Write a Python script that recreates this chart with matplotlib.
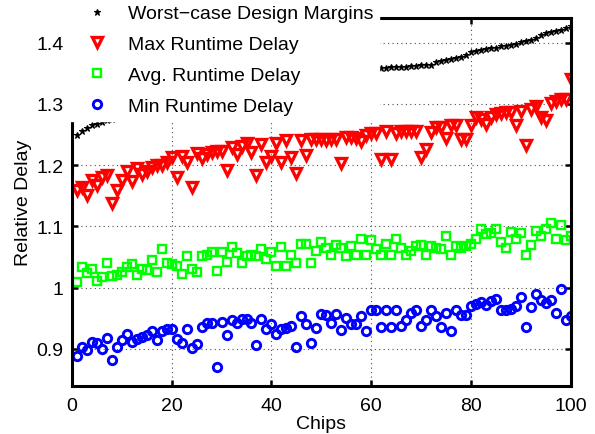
import numpy as np
import matplotlib
matplotlib.use("Agg")
import matplotlib.pyplot as plt
from matplotlib.ticker import FuncFormatter

plt.rcParams['font.family'] = ['Liberation Sans', 'DejaVu Sans']

chips = list(range(1, 101))

worst_case = [
    1.250, 1.256, 1.261, 1.265, 1.268, 1.271, 1.273, 1.275, 1.277, 1.279,
    1.281, 1.283, 1.285, 1.286, 1.288, 1.290, 1.291, 1.293, 1.295, 1.296,
    1.298, 1.299, 1.301, 1.302, 1.304, 1.305, 1.307, 1.308, 1.310, 1.311,
    1.313, 1.314, 1.316, 1.317, 1.318, 1.320, 1.321, 1.322, 1.324, 1.325,
    1.327, 1.328, 1.329, 1.331, 1.332, 1.334, 1.335, 1.337, 1.338, 1.339,
    1.341, 1.342, 1.344, 1.345, 1.347, 1.348, 1.350, 1.351, 1.353, 1.355,
    1.357, 1.359, 1.359, 1.360, 1.360, 1.361, 1.361, 1.362, 1.362, 1.363,
    1.363, 1.364, 1.368, 1.370, 1.372, 1.373, 1.375, 1.377, 1.380, 1.385,
    1.386, 1.388, 1.389, 1.391, 1.392, 1.394, 1.395, 1.396, 1.398, 1.401,
    1.403, 1.405, 1.408, 1.412, 1.415, 1.417, 1.419, 1.421, 1.424, 1.427,
]

max_delay = [
    1.159, 1.164, 1.152, 1.175, 1.168, 1.181, 1.184, 1.138, 1.160, 1.175,
    1.190, 1.174, 1.196, 1.185, 1.191, 1.197, 1.200, 1.201, 1.205, 1.214,
    1.180, 1.215, 1.205, 1.164, 1.220, 1.211, 1.219, 1.222, 1.223, 1.223,
    1.192, 1.230, 1.219, 1.232, 1.236, 1.222, 1.184, 1.234, 1.205, 1.215,
    1.237, 1.205, 1.241, 1.214, 1.187, 1.241, 1.217, 1.243, 1.243, 1.243,
    1.241, 1.243, 1.243, 1.203, 1.246, 1.246, 1.245, 1.239, 1.250, 1.252,
    1.252, 1.210, 1.255, 1.210, 1.252, 1.255, 1.256, 1.256, 1.256, 1.214,
    1.226, 1.254, 1.263, 1.263, 1.245, 1.266, 1.266, 1.243, 1.243, 1.266,
    1.278, 1.275, 1.268, 1.278, 1.283, 1.285, 1.286, 1.286, 1.266, 1.288,
    1.233, 1.292, 1.296, 1.279, 1.273, 1.301, 1.304, 1.308, 1.308, 1.341,
]

avg_delay = [
    1.010, 1.033, 1.024, 1.030, 1.011, 1.018, 1.040, 1.019, 1.020, 1.026,
    1.034, 1.038, 1.021, 1.031, 1.029, 1.046, 1.026, 1.063, 1.040, 1.038,
    1.035, 1.023, 1.051, 1.031, 1.026, 1.052, 1.054, 1.058, 1.028, 1.058,
    1.042, 1.067, 1.057, 1.040, 1.052, 1.054, 1.051, 1.063, 1.047, 1.058,
    1.036, 1.067, 1.036, 1.054, 1.041, 1.071, 1.071, 1.041, 1.060, 1.074,
    1.064, 1.053, 1.069, 1.065, 1.052, 1.068, 1.054, 1.080, 1.053, 1.078,
    1.063, 1.054, 1.072, 1.054, 1.080, 1.064, 1.054, 1.060, 1.068, 1.069,
    1.054, 1.068, 1.064, 1.063, 1.085, 1.053, 1.068, 1.065, 1.068, 1.072,
    1.080, 1.096, 1.087, 1.090, 1.095, 1.074, 1.065, 1.091, 1.079, 1.089,
    1.054, 1.069, 1.092, 1.085, 1.096, 1.105, 1.079, 1.103, 1.078, 1.085,
]

min_delay = [
    0.889, 0.903, 0.898, 0.912, 0.910, 0.900, 0.918, 0.882, 0.904, 0.915,
    0.924, 0.911, 0.916, 0.919, 0.922, 0.929, 0.915, 0.930, 0.932, 0.933,
    0.916, 0.909, 0.932, 0.902, 0.908, 0.936, 0.942, 0.942, 0.871, 0.944,
    0.923, 0.948, 0.942, 0.949, 0.949, 0.943, 0.907, 0.949, 0.932, 0.940,
    0.925, 0.932, 0.934, 0.938, 0.903, 0.953, 0.940, 0.909, 0.934, 0.957,
    0.956, 0.943, 0.957, 0.931, 0.951, 0.941, 0.940, 0.953, 0.929, 0.963,
    0.963, 0.936, 0.963, 0.936, 0.963, 0.938, 0.948, 0.959, 0.964, 0.938,
    0.948, 0.963, 0.954, 0.936, 0.959, 0.930, 0.963, 0.956, 0.956, 0.970,
    0.974, 0.976, 0.971, 0.978, 0.981, 0.964, 0.964, 0.965, 0.970, 0.985,
    0.936, 0.969, 0.989, 0.980, 0.975, 0.980, 0.959, 0.998, 0.948, 0.953,
]

x_ticks = [0, 20, 40, 60, 80, 100]
y_ticks = [0.9, 1.0, 1.1, 1.2, 1.3, 1.4]

fig = plt.figure(figsize=(5.95, 4.35), dpi=100)
ax = fig.add_axes([0.121, 0.111, 0.838, 0.845])

ax.plot(chips, worst_case, linestyle='none', marker='*', color='black',
        markersize=4.5, markeredgewidth=0.8, label='Worst\u2212case Design Margins')
ax.plot(chips, max_delay, linestyle='none', marker='v', markerfacecolor='none',
        markeredgecolor=(1, 0, 0), markersize=6.8, markeredgewidth=2.4,
        label='Max Runtime Delay')
ax.plot(chips, avg_delay, linestyle='none', marker='s', markerfacecolor='none',
        markeredgecolor=(0, 1, 0), markersize=5.8, markeredgewidth=1.7,
        label='Avg. Runtime Delay')
ax.plot(chips, min_delay, linestyle='none', marker='o', markerfacecolor='none',
        markeredgecolor=(0, 0, 1), markersize=6.0, markeredgewidth=2.1,
        label='Min Runtime Delay')

ax.set_xlim(0, 100)
ax.set_ylim(0.84, 1.44)
ax.set_xticks(x_ticks)
ax.set_yticks(y_ticks)
ax.yaxis.set_major_formatter(FuncFormatter(lambda v, p: f"{v:g}"))

ax.grid(True, color='0.3', linestyle=(0, (1, 3)), linewidth=0.8)
ax.set_axisbelow(True)
for s in ax.spines.values():
    s.set_linewidth(2.2)
ax.tick_params(direction='in', length=4, width=1.8, top=True, right=True,
               labelsize=14)
ax.tick_params(axis='x', pad=8)
ax.tick_params(axis='y', pad=6)

ax.set_xlabel('Chips', fontsize=14, labelpad=1)
ax.set_ylabel('Relative Delay', fontsize=14, labelpad=3)

leg = ax.legend(loc='upper left', bbox_to_anchor=(0.116, 1.0),
                bbox_transform=fig.transFigure, fontsize=14, numpoints=1,
                frameon=True, fancybox=False, framealpha=1.0,
                facecolor='white', edgecolor='white', borderpad=0.3,
                labelspacing=0.68, handlelength=2.3, handletextpad=0.42,
                borderaxespad=0.0)
leg.set_zorder(10)

fig.savefig('out.png', dpi=100)
